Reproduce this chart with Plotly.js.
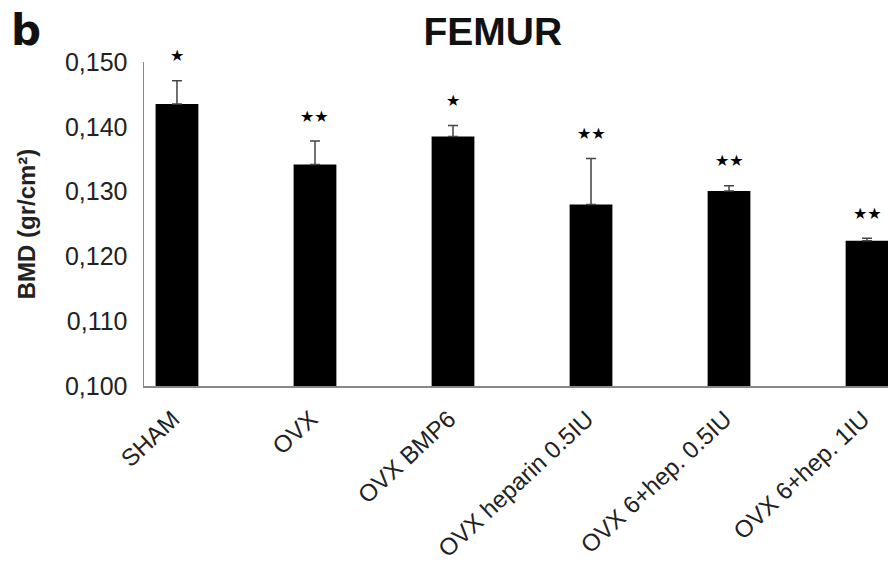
<!DOCTYPE html>
<html>
<head>
<meta charset="utf-8">
<script src="https://cdn.plot.ly/plotly-3.0.1.min.js"></script>
<style>html,body{margin:0;padding:0;background:#fff;}#chart{width:888px;height:568px;}</style>
</head>
<body>
<div id="chart"></div>
<script>
const categories = ["SHAM", "OVX", "OVX BMP6", "OVX heparin 0.5IU", "OVX 6+hep. 0.5IU", "OVX 6+hep. 1IU"];
const bmdValues = [0.1435, 0.1342, 0.1385, 0.1280, 0.1301, 0.1224];
const bmdErrors = [0.0036, 0.0036, 0.0017, 0.0071, 0.0008, 0.0004];
const significance = ["★", "★★", "★", "★★", "★★", "★★"];
const yTicks = [0.100, 0.110, 0.120, 0.130, 0.140, 0.150];

const bars = {
  type: "bar",
  x: categories,
  y: bmdValues,
  width: 0.31,
  marker: {color: "#000000", line: {width: 0}},
  error_y: {
    type: "data",
    symmetric: false,
    array: bmdErrors,
    arrayminus: bmdErrors.map(() => 0),
    color: "#444444",
    thickness: 1.5,
    width: 5
  },
  hoverinfo: "none"
};

const annotations = categories.map((c, i) => ({
  x: c, xref: "x",
  y: bmdValues[i] + bmdErrors[i], yref: "y",
  text: significance[i],
  showarrow: false,
  yanchor: "middle",
  yshift: 25,
  font: {family: "DejaVu Sans", size: 16, color: "#000"}
}));

annotations.push({
  text: "<b>b</b>",
  xref: "paper", yref: "paper",
  x: -0.182, y: 1.18,
  xanchor: "left", yanchor: "top",
  showarrow: false,
  font: {family: "DejaVu Sans", size: 42, color: "#111"}
});

const layout = {
  width: 888, height: 568,
  margin: {l: 144, r: 0, t: 62, b: 182},
  paper_bgcolor: "#fff", plot_bgcolor: "#fff",
  separators: ",.",
  showlegend: false,
  font: {family: "Liberation Sans, Arial", color: "#222"},
  title: {
    text: "<b>FEMUR</b>",
    xref: "container", yref: "container",
    x: 0.555, y: 0.944, xanchor: "center", yanchor: "middle",
    font: {family: "Liberation Sans, Arial", size: 39, color: "#111"}
  },
  xaxis: {
    type: "category",
    range: [-0.239, 5.152],
    showline: true, linecolor: "#888", linewidth: 1.5,
    ticks: "", tickangle: -43,
    ticklabelstandoff: 8,
    ticklabelshift: -4,
    tickfont: {size: 24, color: "#222"},
    showgrid: false, zeroline: false
  },
  yaxis: {
    range: [0.100, 0.150],
    tickvals: yTicks,
    tickformat: ".3f",
    showline: true, linecolor: "#888", linewidth: 1.5,
    ticks: "", ticklabelstandoff: 10,
    tickfont: {size: 25, color: "#222"},
    showgrid: false, zeroline: false,
    title: {text: "<b>BMD (gr/cm²)</b>", font: {size: 24, color: "#222"}, standoff: 22}
  },
  annotations: annotations
};

Plotly.newPlot("chart", [bars], layout, {staticPlot: true});
</script>
</body>
</html>
